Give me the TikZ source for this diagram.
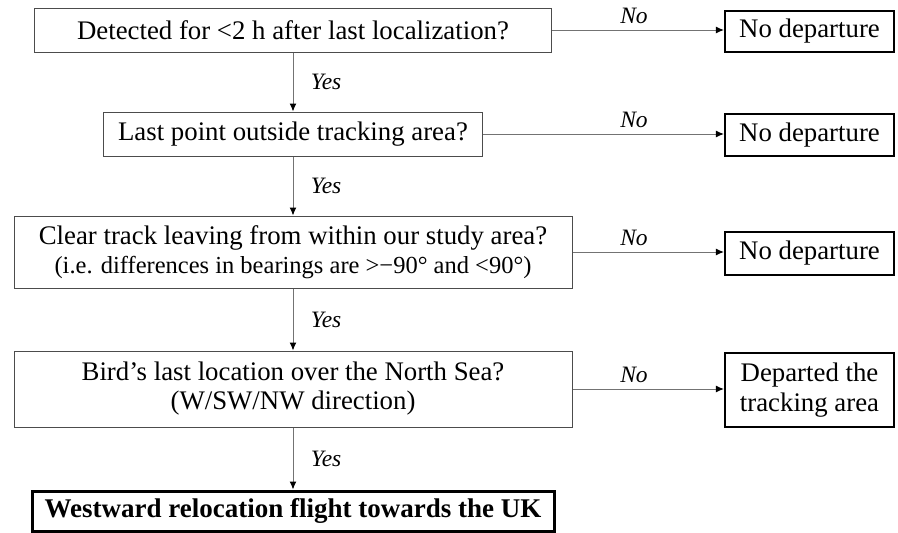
\documentclass[tikz,border=0pt]{standalone}
\usepackage{fontspec}
\setmainfont{Liberation Serif}
\usetikzlibrary{arrows.meta,positioning}

\begin{document}
\begin{tikzpicture}[x=1pt,y=-1pt,
  qbox/.style={draw=black!70,line width=1pt,align=center,inner sep=0pt,font=\fontsize{26.8}{29}\selectfont},
  endbox/.style={draw=black,line width=2.2pt,align=center,inner sep=0pt,minimum width=169pt,font=\fontsize{26.8}{30}\selectfont},
  lbl/.style={font=\fontsize{23.5}{25}\selectfont\itshape},
  flow/.style={draw=black!55,line width=1pt,-{Latex[length=8pt,width=7pt,color=black]}}]
  \useasboundingbox (0,0) rectangle (898,533);
  % questions
  \node[qbox,minimum width=517pt,minimum height=44pt] (q1) at (293,30) {Detected for <2 h after last localization?};
  \node[qbox,minimum width=379pt,minimum height=44pt] (q2) at (293,134) {Last point outside tracking area?};
  \node[qbox,minimum width=558pt,minimum height=72pt] (q3) at (293,252) {Clear track leaving from within our study area?\\{\fontsize{24.5}{28}\selectfont (i.e. differences in bearings are >−90° and <90°)}};
  \node[qbox,minimum width=558pt,minimum height=76pt] (q4) at (293,389) {Bird's last location over the North Sea?\\(W/SW/NW direction)};
  \node[endbox,line width=3pt,minimum width=522pt,minimum height=40pt,font=\fontsize{27}{30}\selectfont\bfseries] (uk) at (293,511) {Westward relocation flight towards the UK};
  % outcomes
  \node[endbox,minimum height=41pt] (r1) at (809.5,31.5) {No departure};
  \node[endbox,minimum height=42pt] (r2) at (809.5,135) {No departure};
  \node[endbox,minimum height=43pt] (r3) at (809.5,253.5) {No departure};
  \node[endbox,minimum height=74pt] (r4) at (809.5,390) {Departed the\\tracking area};
  % yes
  \draw[flow] (q1) -- (q2) node[lbl,midway,right=14pt] {Yes};
  \draw[flow] (q2) -- (q3) node[lbl,midway,right=14pt] {Yes};
  \draw[flow] (q3) -- (q4) node[lbl,midway,right=14pt] {Yes};
  \draw[flow] (q4) -- (uk) node[lbl,midway,right=14pt] {Yes};
  % no
  \coordinate (nocol) at (634,0);
  \draw[flow] (q1.east) -- (q1.east -| r1.west);
  \draw[flow] (q2.east) -- (q2.east -| r2.west);
  \draw[flow] (q3.east) -- (q3.east -| r3.west);
  \draw[flow] (q4.east) -- (q4.east -| r4.west);
  \node[lbl,above=3pt] (n1) at (q1.east -| nocol) {No};
  \node[lbl,above=3pt] (n2) at (q2.east -| nocol) {No};
  \node[lbl,above=3pt] (n3) at (q3.east -| nocol) {No};
  \node[lbl,above=3pt] (n4) at (q4.east -| nocol) {No};
\end{tikzpicture}
\end{document}
